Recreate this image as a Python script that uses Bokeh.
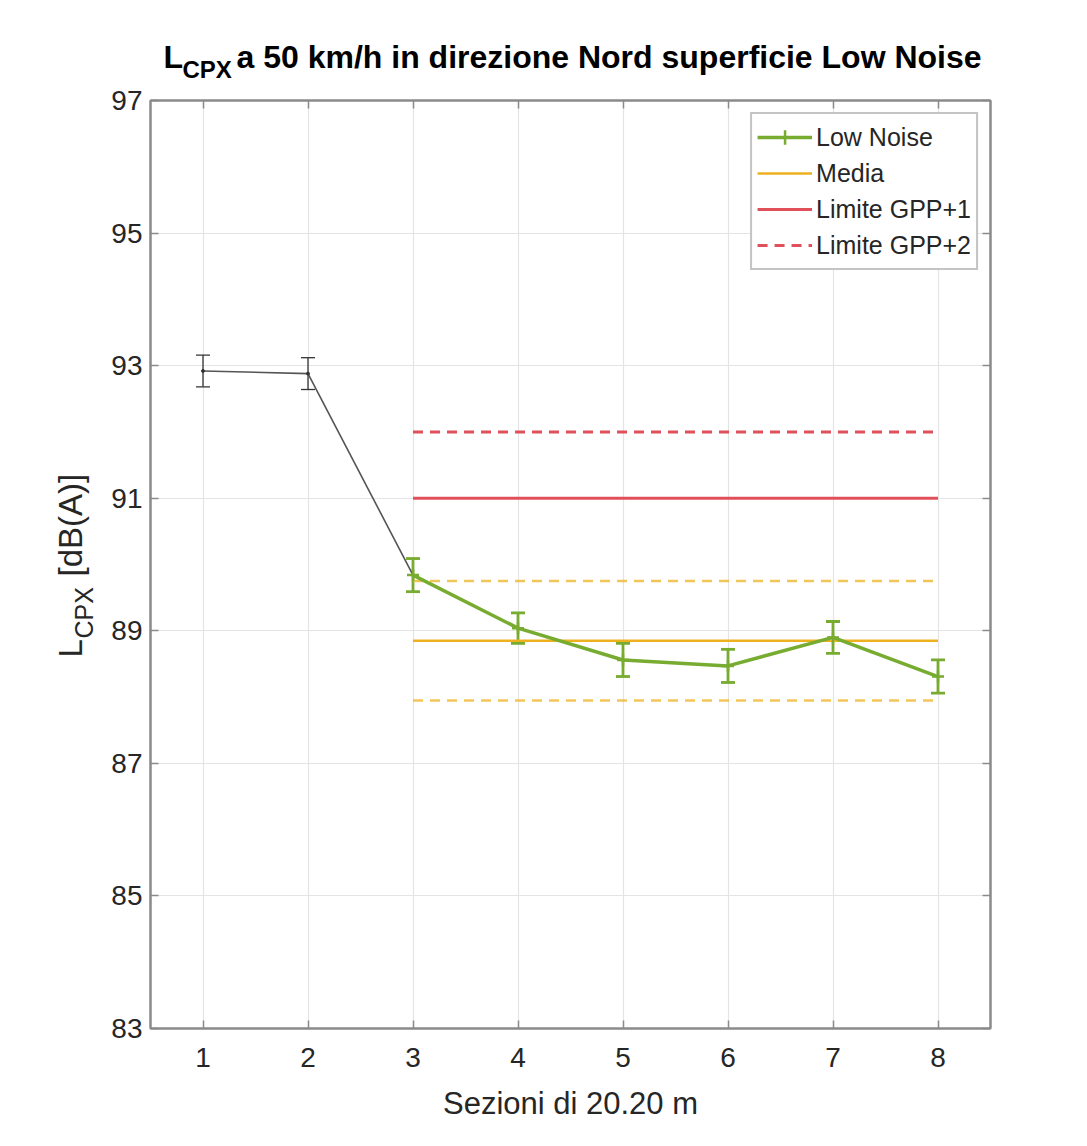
import math
from bokeh.plotting import figure
from bokeh.layouts import column, row
from bokeh.models import (Range1d, FixedTicker, LinearAxis, Whisker, TeeHead,
                          ColumnDataSource, Label, Legend, LegendItem)
from bokeh.embed import file_html
from bokeh.resources import INLINE

# ---------------- data ----------------
sections = [1, 2, 3, 4, 5, 6, 7, 8]
lcpx = [92.92, 92.88, 89.84, 89.04, 88.56, 88.47, 88.90, 88.31]
err = [0.24, 0.24, 0.25, 0.23, 0.25, 0.25, 0.24, 0.25]
low_noise_from = 3            # first section of the Low Noise surface
media_value = 88.85
media_band = [89.75, 87.95]   # dashed bounds around the mean
limit_gpp1 = 91.0
limit_gpp2 = 92.0
x_ticks = [1, 2, 3, 4, 5, 6, 7, 8]
y_ticks = [83, 85, 87, 89, 91, 93, 95, 97]
title_main = "a 50 km/h in direzione Nord superficie Low Noise"
x_label = "Sezioni di 20.20 m"

FONT = "Liberation Sans"
TXT = "#262626"
GREEN = "#77AC30"
YELLOW = "#EDB120"
RED = "#E0505A"
AX = "#8a8a8a"

# split data
i0 = sections.index(low_noise_from)
pre_x = sections[: i0 + 1]
pre_y = lcpx[: i0 + 1]
ln_x = sections[i0:]
ln_y = lcpx[i0:]

src_pre = ColumnDataSource(dict(
    x=sections[:i0], y=lcpx[:i0],
    up=[v + e for v, e in zip(lcpx[:i0], err[:i0])],
    lo=[v - e for v, e in zip(lcpx[:i0], err[:i0])]))
src_ln = ColumnDataSource(dict(
    x=ln_x, y=ln_y,
    up=[v + e for v, e in zip(ln_y, err[i0:])],
    lo=[v - e for v, e in zip(ln_y, err[i0:])]))

span_x = [ln_x[0], ln_x[-1]]

TOTAL_W = 1080
TITLE_H = 84
YLAB_W = 108
MAIN_H = 1056

# ---------------- main plot ----------------
p = figure(width=TOTAL_W - YLAB_W, height=MAIN_H,
           x_range=Range1d(0.5, 8.5), y_range=Range1d(83, 97),
           output_backend="svg", toolbar_location=None, title=None,
           min_border_left=42, min_border_right=90, min_border_top=16, min_border_bottom=112)
p.background_fill_color = "white"
p.border_fill_color = "white"
p.outline_line_color = AX
p.outline_line_width = 2

xb = p.below[0]
yl = p.left[0]
xb.ticker = FixedTicker(ticks=x_ticks)
yl.ticker = FixedTicker(ticks=y_ticks)

top = LinearAxis(ticker=FixedTicker(ticks=x_ticks))
right = LinearAxis(ticker=FixedTicker(ticks=y_ticks))
p.add_layout(top, "above")
p.add_layout(right, "right")

for ax in [xb, yl, top, right]:
    ax.axis_line_color = AX
    ax.axis_line_width = 2
    ax.major_tick_line_color = AX
    ax.major_tick_line_width = 1.5
    ax.major_tick_in = 8
    ax.major_tick_out = 0
    ax.minor_tick_line_color = None
    ax.major_label_text_font = FONT
    ax.major_label_text_font_size = "28px"
    ax.major_label_text_color = TXT
for ax in [top, right]:
    ax.major_label_text_font_size = "0px"
    ax.major_label_text_color = None

xb.major_label_standoff = 19
yl.major_label_standoff = 8
xb.axis_label = x_label
xb.axis_label_text_font = FONT
xb.axis_label_text_font_size = "31px"
xb.axis_label_text_font_style = "normal"
xb.axis_label_text_color = TXT
xb.axis_label_standoff = 16

p.xgrid.grid_line_color = "#e4e4e4"
p.ygrid.grid_line_color = "#e4e4e4"
p.xgrid.grid_line_width = 1.2
p.ygrid.grid_line_width = 1.2

# reference lines
r_g2 = p.line(span_x, [limit_gpp2, limit_gpp2], line_color=RED, line_width=3, line_dash="10 7")
r_g1 = p.line(span_x, [limit_gpp1, limit_gpp1], line_color=RED, line_width=3)
for b in media_band:
    p.line(span_x, [b, b], line_color=YELLOW, line_width=2.5, line_dash="10 7", line_alpha=0.75)
r_med = p.line(span_x, [media_value, media_value], line_color=YELLOW, line_width=2.5)

# pre-section (gray) line and black error bars
p.line(pre_x, pre_y, line_color="#555555", line_width=1.6)
p.add_layout(Whisker(source=src_pre, base="x", upper="up", lower="lo", dimension="height",
                     line_color="#333333", line_width=1.3,
                     upper_head=TeeHead(size=14, line_color="#333333", line_width=1.3),
                     lower_head=TeeHead(size=14, line_color="#333333", line_width=1.3)))
p.scatter(x="x", y="y", source=src_pre, marker="circle", size=3, color="#333333")

# low noise series
r_ln = p.line(x="x", y="y", source=src_ln, line_color=GREEN, line_width=3.5)
p.add_layout(Whisker(source=src_ln, base="x", upper="up", lower="lo", dimension="height",
                     line_color=GREEN, line_width=2.8,
                     upper_head=TeeHead(size=14, line_color=GREEN, line_width=2.8),
                     lower_head=TeeHead(size=14, line_color=GREEN, line_width=2.8)))
r_ln_mark = p.scatter(x="x", y="y", source=src_ln, marker="cross", size=12,
                      line_color=GREEN, line_width=2.5)

legend = Legend(items=[
    LegendItem(label="Low Noise", renderers=[r_ln, r_ln_mark]),
    LegendItem(label="Media", renderers=[r_med]),
    LegendItem(label="Limite GPP+1", renderers=[r_g1]),
    LegendItem(label="Limite GPP+2", renderers=[r_g2]),
], location="top_right")
legend.margin = 12
legend.padding = 5
legend.spacing = 0
legend.glyph_width = 55
legend.glyph_height = 36
legend.label_height = 36
legend.label_standoff = 4
legend.label_text_font = FONT
legend.label_text_font_size = "25px"
legend.label_text_color = TXT
legend.border_line_color = AX
legend.border_line_width = 2
legend.background_fill_color = "white"
legend.background_fill_alpha = 1
p.add_layout(legend)


def text_fig(w, h):
    f = figure(width=w, height=h, x_range=Range1d(0, 1), y_range=Range1d(0, 1),
               output_backend="svg", toolbar_location=None, title=None,
               x_axis_location=None, y_axis_location=None, min_border=0)
    f.outline_line_color = None
    f.background_fill_color = "white"
    f.border_fill_color = "white"
    f.grid.visible = False
    return f


def lab(fig, text, x, y, size, bold=False, angle=0, color="black"):
    fig.add_layout(Label(text=text, x=x, y=y, x_units="screen", y_units="screen",
                         text_font=FONT, text_font_size=size,
                         text_font_style="bold" if bold else "normal",
                         text_color=color, text_align="left", text_baseline="alphabetic",
                         angle=angle))


# title strip (L with subscript CPX)
tf = text_fig(TOTAL_W, TITLE_H)
lab(tf, "L", 163, 28, "32px", bold=True)
lab(tf, "CPX", 182, 15, "24px", bold=True)
lab(tf, title_main, 236, 28, "32px", bold=True)

# y-axis label strip (rotated, with subscript); frame aligned with the main frame
yf = text_fig(YLAB_W, MAIN_H)
lab(yf, "L", 70, 371, "33px", angle=math.pi / 2, color=TXT)
lab(yf, "CPX", 83, 390, "25px", angle=math.pi / 2, color=TXT)
lab(yf, "[dB(A)]", 70, 452, "33px", angle=math.pi / 2, color=TXT)

layout = column(tf, row(yf, p, spacing=0), spacing=0)

open("out.html", "w").write(file_html(layout, INLINE))
